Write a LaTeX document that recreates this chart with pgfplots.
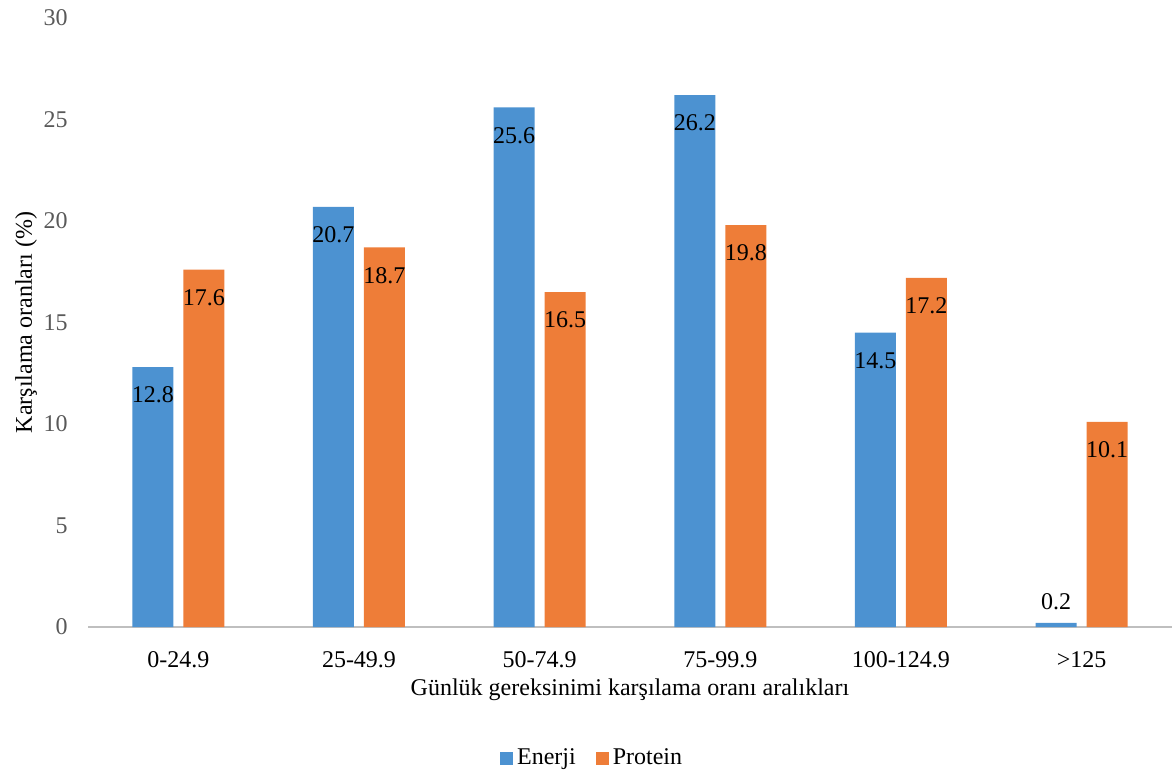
\documentclass[border=0pt]{standalone}
\usepackage{fontspec}
\setmainfont{Liberation Serif}
\usepackage{pgfplots}
\usepackage{pgfplotstable}
\pgfplotsset{compat=1.18}
\definecolor{eblue}{HTML}{4C92D1}
\definecolor{porange}{HTML}{EE7D38}
\definecolor{tickgray}{HTML}{595959}
\definecolor{axgray}{HTML}{BFBFBF}
\pgfplotstableread{
x y s
0 12.8 -14
1 20.7 -14
2 25.6 -14
3 26.2 -14
4 14.5 -14
5 0.2 10.5
}\enerji
\pgfplotstableread{
x y s
0 17.6 -14
1 18.7 -14
2 16.5 -14
3 19.8 -14
4 17.2 -14
5 10.1 -14
}\protein
\begin{document}
\fontsize{12}{14}\selectfont
\begin{tikzpicture}
\path[use as bounding box] (-44pt,-72.5pt) rectangle (543pt,313.5pt);
\begin{axis}[
  at={(0,0)}, anchor=south west,
  scale only axis, width=542pt, height=304.5pt,
  xmin=-0.5, xmax=5.5, ymin=0, ymax=30,
  ybar=5pt, bar width=20.5pt,
  axis x line*=bottom, axis y line*=left,
  x axis line style={draw=axgray, line width=1.3pt, -},
  y axis line style={draw=none},
  xtick={0,1,2,3,4,5},
  xticklabels={0-24.9,25-49.9,50-74.9,75-99.9,100-124.9,>125},
  ytick={0,5,10,15,20,25,30},
  tick style={draw=none},
  yticklabel style={text=tickgray, xshift=-6pt},
  xticklabel style={yshift=-4pt},
  /pgf/number format/assume math mode=true,
  ticklabel style={font=\fontsize{12}{14}\selectfont},
  label style={font=\fontsize{12}{14}\selectfont},
  xlabel={Günlük gereksinimi karşılama oranı aralıkları},
  xlabel style={at={(axis description cs:0.5,0)}, anchor=center, yshift=-31.5pt},
  ylabel={Karşılama oranları (\%)},
  ylabel style={at={(axis description cs:0,0.5)}, anchor=center, yshift=31pt},
  nodes near coords,
  visualization depends on={\thisrow{s} \as \sh},
  every node near coord/.append style={anchor=center, yshift=\sh pt, font=\fontsize{12}{14}\selectfont, text=black},
  point meta=explicit symbolic,
  legend columns=2,
  legend style={draw=none, at={(axis description cs:0.466,0)}, anchor=center, yshift=-65.5pt, font=\fontsize{12}{14}\selectfont, /tikz/every even column/.append style={column sep=8pt}},
  legend image code/.code={\fill[#1] (0pt,-3.25pt) rectangle (6.5pt,3.25pt);},
]
\addplot[fill=eblue, draw=none] table[x=x, y=y, meta=y] {\enerji};
\addlegendentry{Enerji}
\addplot[fill=porange, draw=none] table[x=x, y=y, meta=y] {\protein};
\addlegendentry{Protein}
\end{axis}
\end{tikzpicture}
\end{document}
